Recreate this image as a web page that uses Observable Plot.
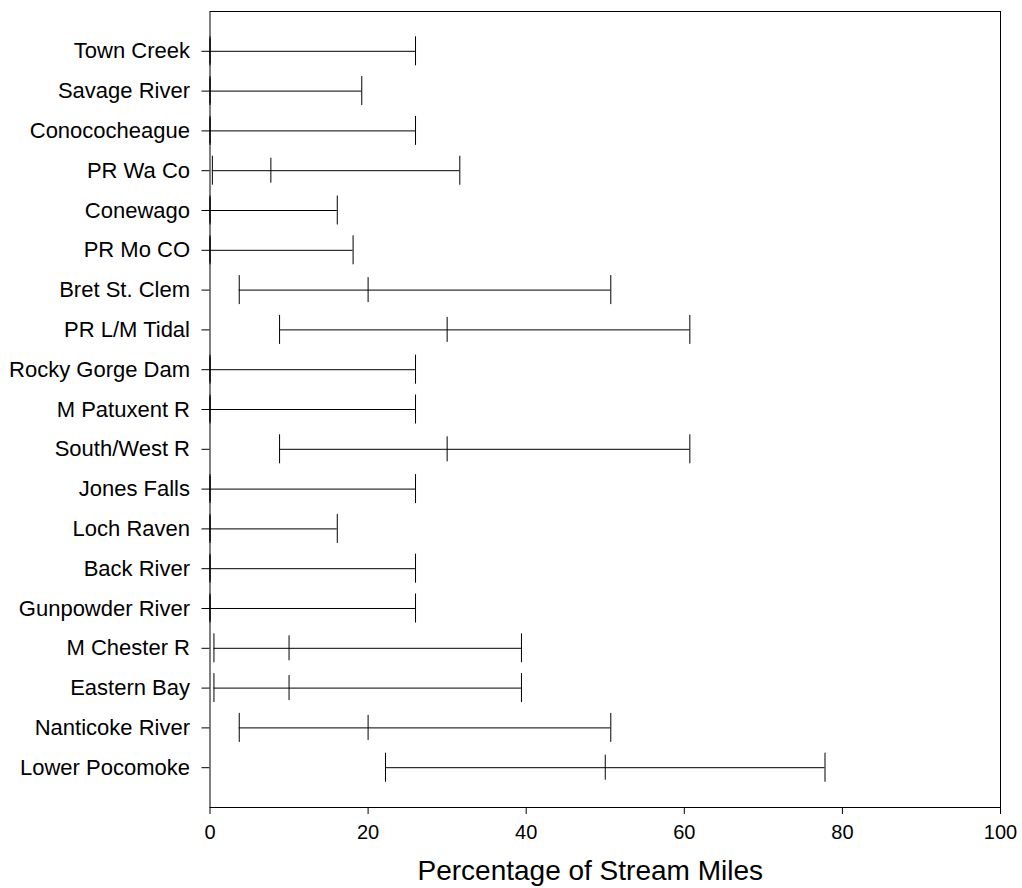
<!DOCTYPE html>
<html>
<head>
<meta charset="utf-8">
<script src="https://cdn.jsdelivr.net/npm/d3@7"></script>
<script src="https://cdn.jsdelivr.net/npm/@observablehq/plot@0.6"></script>
<style>
  html, body { margin: 0; padding: 0; background: #fff; }
  #chart svg { display: block; font-family: "Liberation Sans", Arial, sans-serif; }
</style>
</head>
<body>
<div id="chart"></div>
<script>
const sites = ["Town Creek", "Savage River", "Conococheague", "PR Wa Co", "Conewago", "PR Mo CO",
  "Bret St. Clem", "PR L/M Tidal", "Rocky Gorge Dam", "M Patuxent R", "South/West R", "Jones Falls",
  "Loch Raven", "Back River", "Gunpowder River", "M Chester R", "Eastern Bay", "Nanticoke River", "Lower Pocomoke"];
const lower = [0, 0, 0, 0.3, 0, 0, 3.7, 8.8, 0, 0, 8.8, 0, 0, 0, 0, 0.5, 0.5, 3.7, 22.2];
const middle = [0, 0, 0, 7.7, 0, 0, 20, 30, 0, 0, 30, 0, 0, 0, 0, 10, 10, 20, 50];
const upper = [26, 19.2, 26, 31.6, 16.1, 18.1, 50.7, 60.7, 26, 26, 60.7, 26, 16.1, 26, 26, 39.4, 39.4, 50.7, 77.8];
const xTicks = [0, 20, 40, 60, 80, 100];
const xTitle = "Percentage of Stream Miles";

const data = sites.map((s, i) => ({site: s, lo: lower[i], mid: middle[i], hi: upper[i]}));

const chart = Plot.plot({
  width: 1022,
  height: 888,
  marginLeft: 209.5,
  marginRight: 22,
  marginTop: 11,
  marginBottom: 81,
  style: {fontFamily: "'Liberation Sans', Arial, sans-serif", color: "#000", background: "#fff"},
  x: {domain: [0, 100], ticks: xTicks},
  y: {domain: sites, type: "band", paddingInner: 0, paddingOuter: 0.5, round: false},
  marks: [
    Plot.frame({stroke: "#000"}),
    Plot.ruleY(data, {y: "site", x1: "lo", x2: "hi", stroke: "#000", strokeWidth: 1}),
    Plot.tickX(data, {y: "site", x: "lo", stroke: "#000", insetTop: 5.4, insetBottom: 5.4}),
    Plot.tickX(data, {y: "site", x: "hi", stroke: "#000", insetTop: 5.4, insetBottom: 5.4}),
    Plot.tickX(data, {y: "site", x: "mid", stroke: "#000", insetTop: 7.4, insetBottom: 7.4}),
    Plot.axisY({tickSize: 8, tickPadding: 12, fontSize: 22, label: null, stroke: "#000"}),
    Plot.axisX({ticks: xTicks, tickSize: 7, tickPadding: 10, fontSize: 20, label: null, stroke: "#000"}),
    Plot.text([xTitle], {text: d => d, frameAnchor: "bottom", dy: 64, dx: -15, lineAnchor: "middle", fontSize: 28, fill: "#000"})
  ]
});
document.getElementById("chart").appendChild(chart);
</script>
</body>
</html>
